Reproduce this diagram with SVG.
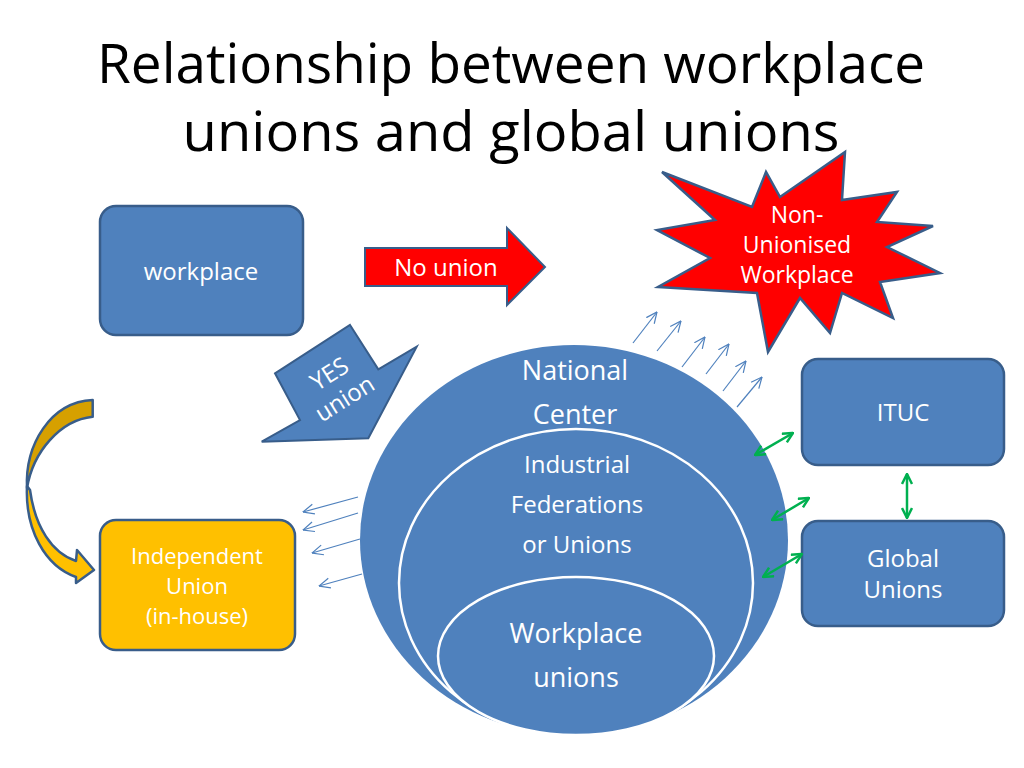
<svg xmlns="http://www.w3.org/2000/svg" width="1024" height="768" viewBox="0 0 1024 768">
<style>
.t{font-family:"Open Sans","Noto Sans","Liberation Sans",sans-serif;fill:#fff;text-anchor:middle}
.ttl{font-family:"Open Sans","Noto Sans","Liberation Sans",sans-serif;fill:#000;text-anchor:middle;font-size:54px}
.box{fill:#4F81BD;stroke:#385D8A;stroke-width:2.5}
.ell{fill:#4F81BD;stroke:#fff;stroke-width:2.5}
.g{stroke:#00B050;stroke-width:2.5;fill:none}
.b{stroke:#4F81BD;stroke-width:1.2;fill:none}
</style>
<defs>
<marker id="gh" viewBox="0 0 12 12" refX="11" refY="6" markerWidth="12" markerHeight="12" markerUnits="userSpaceOnUse" orient="auto-start-reverse">
<path d="M1,1 L11,6 L1,11" fill="none" stroke="#00B050" stroke-width="2.5"/>
</marker>
<marker id="bh" viewBox="0 0 12 12" refX="11.5" refY="6" markerWidth="12" markerHeight="12" markerUnits="userSpaceOnUse" orient="auto">
<path d="M0.5,1 L11.5,6 L0.5,11" fill="none" stroke="#4F81BD" stroke-width="1.2"/>
</marker>
</defs>
<rect width="1024" height="768" fill="#fff"/>
<g id="title">
<text class="ttl" x="511" y="83" textLength="828" lengthAdjust="spacingAndGlyphs">Relationship between workplace</text>
<text class="ttl" x="511" y="151" textLength="657" lengthAdjust="spacingAndGlyphs">unions and global unions</text>
</g>
<g id="national-center">
<ellipse cx="574" cy="540" rx="214" ry="195" fill="#4F81BD"/>
<text class="t" x="575" y="380" font-size="27">National</text>
<text class="t" x="575" y="424" font-size="27">Center</text>
</g>
<g id="industrial-federations">
<ellipse class="ell" cx="576" cy="583" rx="177" ry="154"/>
<text class="t" x="577" y="473" font-size="24">Industrial</text>
<text class="t" x="577" y="513" font-size="24">Federations</text>
<text class="t" x="577" y="553" font-size="24">or Unions</text>
</g>
<g id="workplace-unions">
<ellipse class="ell" cx="576" cy="656" rx="138" ry="79"/>
<text class="t" x="576" y="643" font-size="27">Workplace</text>
<text class="t" x="576" y="687" font-size="27">unions</text>
</g>
<g id="workplace">
<rect class="box" x="100" y="206" width="203" height="129" rx="16"/>
<text class="t" x="201" y="280" font-size="24">workplace</text>
</g>
<g id="no-union">
<polygon points="365,248 507,248 507,228 545,267 507,305 507,286 365,286" fill="#FF0000" stroke="#385D8A" stroke-width="2"/>
<text class="t" x="446" y="276" font-size="24">No union</text>
</g>
<g id="non-unionised">
<polygon points="662,172 752,207 766,172 780,197 845,152 842,200 897,192 877,222 933,226 887,247 940,273 880,282 893,318 842,293 830,333 800,298 768,352 757,293 658,287 710,258 657,230 715,220" fill="#FF0000" stroke="#385D8A" stroke-width="2.5" stroke-linejoin="miter"/>
<text class="t" x="797" y="223" font-size="23">Non-</text>
<text class="t" x="797" y="253" font-size="23">Unionised</text>
<text class="t" x="797" y="283" font-size="23">Workplace</text>
</g>
<g id="yes-union">
<polygon points="350,325 378.3,369.3 416.7,346.7 368.3,438.3 261.7,441.7 300,420 275,373.3" fill="#4F81BD" stroke="#385D8A" stroke-width="2"/>
<g transform="translate(337,386) rotate(-32)">
<text class="t" x="0" y="-6" font-size="24">YES</text>
<text class="t" x="0" y="23" font-size="24">union</text>
</g>
</g>
<g id="curved-arrow">
<path d="M92.7,400 C50,402 25,445 27,488 C33,452 60,420 92.7,416.7 Z" fill="#D6A000" stroke="#385D8A" stroke-width="2.5" stroke-linejoin="round"/>
<path d="M27,486 C25,530 45,566 76,577 L76,583 L94,570 L77,550 L76,561 C52,553 35,527 30,490 Z" fill="#FFC000" stroke="#385D8A" stroke-width="2.5" stroke-linejoin="round"/>
</g>
<g id="independent-union">
<rect x="100" y="520" width="195" height="130" rx="16" fill="#FFC000" stroke="#385D8A" stroke-width="2.5"/>
<text class="t" x="197" y="564" font-size="22">Independent</text>
<text class="t" x="197" y="594" font-size="22">Union</text>
<text class="t" x="197" y="624" font-size="22">(in-house)</text>
</g>
<g id="ituc">
<rect class="box" x="802" y="359" width="202" height="106" rx="16"/>
<text class="t" x="903" y="421" font-size="24">ITUC</text>
</g>
<g id="global-unions">
<rect class="box" x="802" y="521" width="202" height="105" rx="16"/>
<text class="t" x="903" y="567" font-size="24">Global</text>
<text class="t" x="903" y="598" font-size="24">Unions</text>
</g>
<g id="connectors">
<line class="g" x1="755" y1="455" x2="793" y2="433" marker-start="url(#gh)" marker-end="url(#gh)"/>
<line class="g" x1="772" y1="520" x2="809" y2="498" marker-start="url(#gh)" marker-end="url(#gh)"/>
<line class="g" x1="763" y1="577" x2="802" y2="554" marker-start="url(#gh)" marker-end="url(#gh)"/>
<line class="g" x1="907" y1="474" x2="907" y2="518" marker-start="url(#gh)" marker-end="url(#gh)"/>
<line class="b" x1="633" y1="343" x2="657" y2="312" marker-end="url(#bh)"/>
<line class="b" x1="657" y1="351" x2="681" y2="321" marker-end="url(#bh)"/>
<line class="b" x1="682" y1="367" x2="705" y2="337" marker-end="url(#bh)"/>
<line class="b" x1="706" y1="374" x2="729" y2="344" marker-end="url(#bh)"/>
<line class="b" x1="723" y1="391" x2="746" y2="361" marker-end="url(#bh)"/>
<line class="b" x1="737" y1="407" x2="762" y2="377" marker-end="url(#bh)"/>
<line class="b" x1="358" y1="497" x2="303" y2="512" marker-end="url(#bh)"/>
<line class="b" x1="358" y1="513" x2="303" y2="530" marker-end="url(#bh)"/>
<line class="b" x1="360" y1="539" x2="312" y2="553" marker-end="url(#bh)"/>
<line class="b" x1="362" y1="574" x2="319" y2="586" marker-end="url(#bh)"/>
</g>
</svg>
